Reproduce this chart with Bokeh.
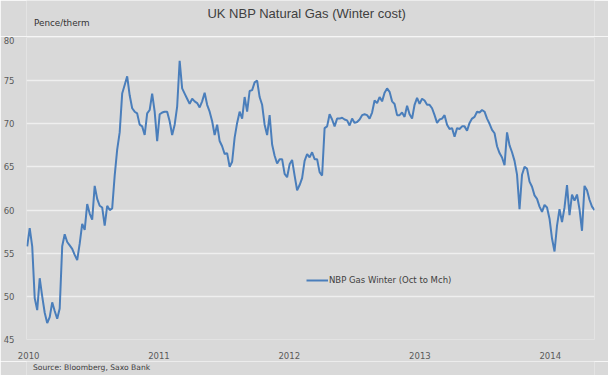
import pandas as pd
from bokeh.plotting import figure
from bokeh.layouts import column
from bokeh.models import Label, Range1d, FixedTicker, DatetimeTickFormatter
from bokeh.embed import file_html
from bokeh.resources import INLINE

# ---- data (weekly readings, pence/therm) ----
start_date = "2009-12-28"
nbp_winter = [
    55.8, 57.9, 55.8, 49.8, 48.4, 52.1, 50.0, 48.1, 46.9, 47.6,
    49.3, 48.3, 47.4, 48.6, 55.8, 57.2, 56.3, 55.9, 55.5, 54.8,
    54.2, 56.1, 58.4, 57.7, 60.7, 59.6, 58.9, 62.8, 61.3, 60.5,
    60.3, 58.2, 60.5, 60.0, 60.2, 64.0, 67.0, 69.0, 73.5, 74.5,
    75.5, 73.3, 71.8, 71.4, 71.2, 69.9, 69.7, 68.7, 71.2, 71.6,
    73.5, 71.4, 68.0, 71.1, 71.3, 71.4, 71.4, 70.3, 68.7, 69.9,
    72.0, 77.3, 74.1, 73.5, 72.9, 72.3, 72.9, 72.6, 72.4, 71.9,
    72.6, 73.6, 72.2, 71.4, 70.3, 68.7, 69.9, 68.0, 67.4, 66.5,
    66.6, 65.0, 65.6, 68.4, 70.1, 71.4, 70.6, 73.1, 71.4, 73.8,
    73.9, 74.8, 75.0, 73.1, 72.2, 69.9, 68.7, 71.0, 67.6, 66.3,
    65.4, 65.9, 65.9, 64.2, 63.8, 65.3, 65.8, 64.0, 62.3, 62.9,
    63.7, 65.7, 66.5, 66.1, 66.7, 65.9, 65.9, 64.4, 64.0, 69.5,
    69.7, 71.1, 70.5, 69.7, 70.6, 70.6, 70.7, 70.5, 70.4, 69.8,
    70.6, 70.1, 70.2, 70.5, 71.0, 71.1, 71.0, 70.6, 71.3, 72.7,
    72.4, 73.1, 72.6, 73.6, 74.1, 73.7, 72.6, 72.3, 71.0, 71.0,
    71.3, 70.8, 72.1, 71.1, 70.6, 72.2, 73.0, 72.3, 72.9, 72.7,
    72.2, 72.2, 71.8, 71.0, 70.1, 70.5, 70.6, 71.0, 69.9, 69.4,
    69.5, 68.5, 69.5, 69.4, 69.7, 69.7, 69.2, 70.1, 70.6, 70.8,
    71.4, 71.3, 71.6, 71.4, 70.6, 70.0, 69.3, 68.9, 67.4, 66.6,
    66.1, 65.2, 69.0, 67.5, 66.7, 65.7, 64.1, 60.1, 64.1, 65.0,
    64.8, 63.3, 62.7, 61.7, 61.3, 60.4, 59.8, 60.6, 60.3, 59.0,
    56.7, 55.2, 58.2, 60.1, 58.6, 60.3, 62.9, 59.4, 61.8, 61.1,
    61.8, 60.1, 57.6, 62.8, 62.3, 61.2, 60.4, 60.0,
]
dates = pd.date_range(start_date, periods=len(nbp_winter), freq="7D")

x_start, x_end = "2009-12-26", "2014-05-05"
year_ticks = ["2010-01-01", "2011-01-01", "2012-01-01", "2013-01-01", "2014-01-01"]
y_ticks = [45, 50, 55, 60, 65, 70, 75, 80]

title_text = "UK NBP Natural Gas (Winter cost)"
unit_text = "Pence/therm"
source_text = "Source: Bloomberg, Saxo Bank"
series_name = "NBP Gas Winter (Oct to Mch)"

BG = "#d9d9d9"
LINE = "#4a7ebb"
W = 608


def text_strip(height):
    f = figure(width=W, height=height, x_range=Range1d(0, W), y_range=Range1d(0, height),
               x_axis_location=None, y_axis_location=None, min_border=0,
               output_backend="svg", toolbar_location=None)
    f.background_fill_color = BG
    f.border_fill_color = BG
    f.outline_line_color = None
    f.grid.grid_line_color = None
    return f


# header: title + unit
head = text_strip(36)
head.add_layout(Label(x=300, y=22.7, text=title_text, text_align="center", text_baseline="middle",
                      text_font="Liberation Sans", text_font_size="13px", text_color="#404040"))
head.add_layout(Label(x=8, y=13.8, text=unit_text, text_align="left", text_baseline="middle",
                      text_font="DejaVu Sans", text_font_size="8.8px", text_color="#333333"))

# main chart
p = figure(
    width=W, height=325,
    x_axis_type="datetime",
    x_range=Range1d(pd.Timestamp(x_start), pd.Timestamp(x_end)),
    y_range=Range1d(45, 80),
    output_backend="svg", toolbar_location=None,
    min_border_left=23, min_border_right=14, min_border_top=1, min_border_bottom=18,
)
p.background_fill_color = BG
p.border_fill_color = BG
p.outline_line_color = None

p.xgrid.grid_line_color = None
p.ygrid.grid_line_color = "#efefef"
p.ygrid.grid_line_width = 1.5

p.yaxis.ticker = FixedTicker(ticks=y_ticks)
p.xaxis.ticker = FixedTicker(ticks=[pd.Timestamp(t).value // 10**6 for t in year_ticks])
p.xaxis.formatter = DatetimeTickFormatter(
    years="%Y", months="%Y", days="%Y", hours="%Y", minutes="%Y",
    seconds="%Y", milliseconds="%Y", microseconds="%Y",
)
for ax in (p.xaxis, p.yaxis):
    ax.axis_line_color = None
    ax.major_tick_line_color = None
    ax.minor_tick_line_color = None
    ax.major_label_text_font = "DejaVu Sans"
    ax.major_label_text_font_size = "8.5px"
    ax.major_label_text_color = "#595959"
p.yaxis.major_label_standoff = 6
p.xaxis.major_label_standoff = 6

p.line(dates, nbp_winter, line_color=LINE, line_width=2, legend_label=series_name)

lg = p.legend[0]
lg.location = (280, 54)
lg.background_fill_alpha = 0
lg.border_line_color = None
lg.padding = 0
lg.margin = 0
lg.spacing = 0
lg.glyph_width = 22
lg.glyph_height = 10
lg.label_height = 10
lg.label_standoff = 1
lg.label_text_font = "DejaVu Sans"
lg.label_text_font_size = "8.5px"
lg.label_text_color = "#404040"

# footer: source
foot = text_strip(14)
foot.add_layout(Label(x=7, y=8.3, text=source_text, text_align="left", text_baseline="middle",
                      text_font="DejaVu Sans", text_font_size="7.6px", text_color="#404040"))

page = column(head, p, foot, spacing=0)
open("out.html", "w").write(file_html(page, INLINE))
